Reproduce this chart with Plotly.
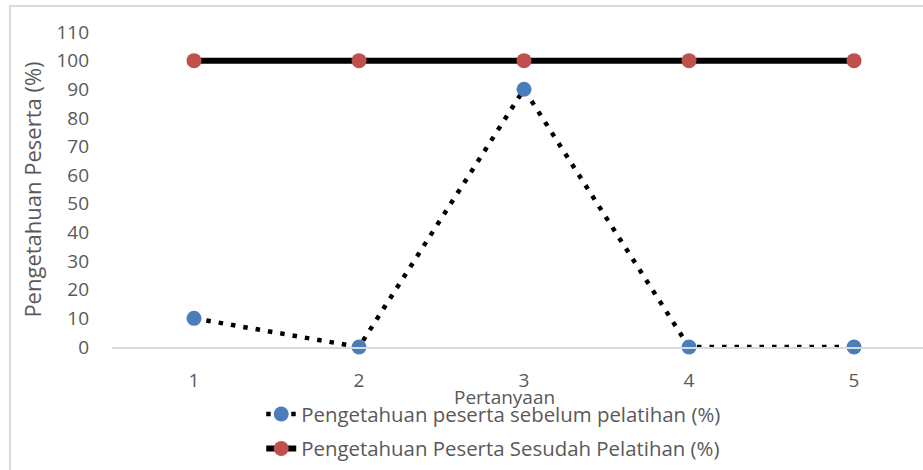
import plotly.graph_objects as go

# Question numbers and participant knowledge scores (%)
questions = [1, 2, 3, 4, 5]
before_training = [10, 0, 90, 0, 0]
after_training = [100, 100, 100, 100, 100]

name_before = "Pengetahuan peserta sebelum pelatihan (%)"
name_after = "Pengetahuan Peserta Sesudah Pelatihan (%)"
y_ticks = list(range(0, 111, 10))

FONT = "Open Sans"
GREY = "#595959"

fig = go.Figure()
fig.add_trace(go.Scatter(
    x=questions, y=before_training, name=name_before, mode="lines+markers",
    line=dict(color="black", width=4.5, dash="4.5px,8px"),
    marker=dict(color="#4A7EBB", size=15),
    legendgroup="a", cliponaxis=False,
))
fig.add_trace(go.Scatter(
    x=questions, y=after_training, name=name_after, mode="lines+markers",
    line=dict(color="black", width=6),
    marker=dict(color="#C0504D", size=15),
    legendgroup="b", cliponaxis=False,
))

fig.update_layout(
    width=923, height=470,
    margin=dict(l=112, r=0, t=32, b=123),
    plot_bgcolor="white", paper_bgcolor="white",
    font=dict(family=FONT, size=20, color=GREY),
    xaxis=dict(
        range=[0.503, 5.418], tickvals=questions, ticktext=[str(q) for q in questions],
        showgrid=False, zeroline=False, showline=True, linecolor="#D9D9D9", linewidth=2,
        ticks="", ticklabelstandoff=15, tickfont=dict(size=19),
    ),
    yaxis=dict(
        range=[0, 110], tickvals=y_ticks, showgrid=False, zeroline=False, showline=False,
        ticks="", ticklabelstandoff=22, tickfont=dict(size=19),
        title=dict(text="Pengetahuan Peserta (%)", standoff=8, font=dict(size=22, color=GREY)),
    ),
    annotations=[dict(
        text="Pertanyaan", xref="paper", yref="paper", x=0.484, y=-0.158,
        xanchor="center", yanchor="middle", showarrow=False,
        font=dict(size=19, color=GREY),
    )],
    showlegend=True,
    legend=dict(
        x=0.184, y=-0.15, xanchor="left", yanchor="top",
        traceorder="grouped", tracegroupgap=5,
        font=dict(size=20.4, color=GREY), bgcolor="rgba(0,0,0,0)",
    ),
    shapes=[dict(
        type="rect", xref="paper", yref="paper",
        x0=-0.1258, x1=1.1, y0=-0.5, y1=1.0825,
        line=dict(color="#D9D9D9", width=2), layer="below",
    )],
)

fig.write_html("out.html")
